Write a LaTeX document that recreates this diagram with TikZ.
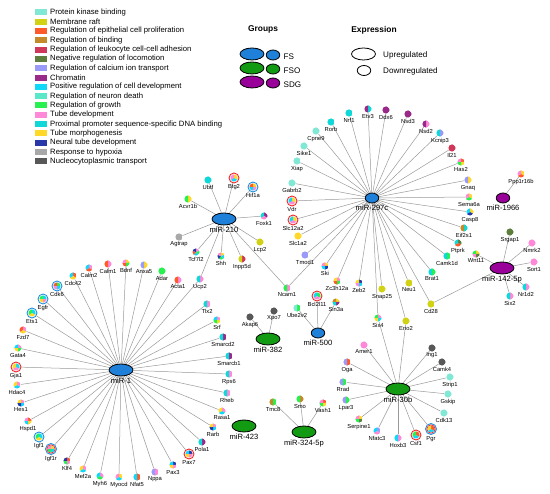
\documentclass[tikz,border=0pt]{standalone}
\usepackage{fontspec}
\setmainfont{Liberation Sans}
\usetikzlibrary{shapes.geometric}
\pgfdeclarelayer{bg}
\pgfsetlayers{bg,main}
\definecolor{pkb}{HTML}{80E8D4}
\definecolor{mraft}{HTML}{D2D214}
\definecolor{epi}{HTML}{FF5A2A}
\definecolor{bind}{HTML}{C48A2A}
\definecolor{leuk}{HTML}{D0385A}
\definecolor{negloc}{HTML}{5E7E3E}
\definecolor{calc}{HTML}{9A9AF8}
\definecolor{chrom}{HTML}{9A2A8A}
\definecolor{posdev}{HTML}{10D8F8}
\definecolor{neur}{HTML}{5AE8C8}
\definecolor{growth}{HTML}{28F050}
\definecolor{tube}{HTML}{FF88D8}
\definecolor{prox}{HTML}{10D8D8}
\definecolor{tmorph}{HTML}{FFD828}
\definecolor{ntube}{HTML}{2838A8}
\definecolor{hyp}{HTML}{A8A8A8}
\definecolor{nuc}{HTML}{585858}
\definecolor{fs}{HTML}{1E80D8}
\definecolor{fso}{HTML}{129A12}
\definecolor{sdg}{HTML}{990099}
\definecolor{ringred}{HTML}{F02828}
\definecolor{ringblue}{HTML}{1E90E0}
\newcommand\piefill[1]{%
  \foreach \pcol [count=\pn] in {#1} {\xdef\npie{\pn}}%
  \foreach \pcol [count=\pk] in {#1} {%
    \fill[\pcol] (path picture bounding box.center) -- ++({90-(\pk-1)*360/\npie}:3.6pt)
      arc[start angle={90-(\pk-1)*360/\npie}, end angle={90-\pk*360/\npie}, radius=3.6pt] -- cycle;}%
}
\tikzset{
  gene/.style={circle, inner sep=0pt, minimum size=7.2pt, path picture={\piefill{#1}}},
  rr/.style={minimum size=10pt, draw=ringred, line width=0.9pt, fill=white},
  br/.style={minimum size=10pt, draw=ringblue, line width=0.9pt, fill=white},
  brr/.style={minimum size=11pt, draw=ringblue, line width=0.9pt, fill=white},
  lab/.style={font=\fontsize{5.8}{6}\selectfont, inner sep=1pt, text=black},
  hlab/.style={font=\fontsize{7.6}{8}\selectfont, inner sep=1.5pt, text=black},
  hubB/.style={ellipse, draw=black, line width=0.8pt, minimum width=24pt, minimum height=12pt, inner sep=0pt},
  hubS/.style={ellipse, draw=black, line width=0.8pt, minimum width=13.5pt, minimum height=10pt, inner sep=0pt},
  edge/.style={draw=gray!80, line width=0.5pt},
  legsq/.style={rectangle, minimum width=12pt, minimum height=6pt, inner sep=0pt},
  legtxt/.style={font=\fontsize{7.7}{8}\selectfont, inner sep=0pt, anchor=west},
  ttl/.style={font=\fontsize{8.4}{9}\selectfont\bfseries, inner sep=0pt},
  gtxt/.style={font=\fontsize{8.1}{9}\selectfont, inner sep=0pt, anchor=west},
}
\newcommand\gn[5][]{\node[gene={#5},#1,label={[lab]below:#4}] (#2) at (#3) {};}
\begin{document}
\begin{tikzpicture}[x=1pt,y=-1pt]
\useasboundingbox (0,0) rectangle (550,494);
% ---------- legend ----------
\foreach \col/\txt [count=\i from 0] in {pkb/Protein kinase binding, mraft/Membrane raft,
  epi/Regulation of epithelial cell proliferation, bind/Regulation of binding,
  leuk/Regulation of leukocyte cell-cell adhesion, negloc/Negative regulation of locomotion,
  calc/Regulation of calcium ion transport, chrom/Chromatin,
  posdev/Positive regulation of cell development, neur/Regulation of neuron death,
  growth/Regulation of growth, tube/Tube development,
  prox/Proximal promoter sequence-specific DNA binding, tmorph/Tube morphogenesis,
  ntube/Neural tube development, hyp/Response to hypoxia, nuc/Nucleocytoplasmic transport}{
  \node[legsq, fill=\col] (sq\i) at (40.5,{12.3+9.32*\i}) {};
  \node[legtxt] (lt\i) at (50,{12.3+9.32*\i}) {\txt};
}
\node[ttl] (gtitle) at (263,29) {Groups};
\node[hubB, fill=fs] (gfsb) at (252,54) {};
\node[hubS, fill=fs] (gfss) at (273,55) {};
\node[gtxt] (gfst) at (283.5,57) {FS};
\node[hubB, fill=fso] (gfsob) at (252,68) {};
\node[hubS, fill=fso] (gfsos) at (273,69) {};
\node[gtxt] (gfsot) at (283.5,71) {FSO};
\node[hubB, fill=sdg] (gsdgb) at (252,82) {};
\node[hubS, fill=sdg] (gsdgs) at (273,83) {};
\node[gtxt] (gsdgt) at (283.5,85) {SDG};
\node[ttl] (etitle) at (374,30) {Expression};
\node[hubB, fill=white] (eup) at (363.5,54) {};
\node[gtxt] (eupt) at (383,55) {Upregulated};
\node[hubS, fill=white] (edown) at (364,70.5) {};
\node[gtxt] (edownt) at (383,71) {Downregulated};
% ---------- hubs ----------
\node[hubB, fill=fs, label={[hlab]below:miR-1}] (m1) at (121,370) {};
\node[hubB, fill=fs, label={[hlab]below:miR-210}] (m210) at (224,219) {};
\node[hubS, fill=fs, label={[hlab]below:miR-297c}] (m297) at (372,198) {};
\node[hubS, fill=fs, label={[hlab]below:miR-500}] (m500) at (318,333) {};
\node[hubB, fill=fso, label={[hlab]below:miR-382}] (m382) at (268,339) {};
\node[hubB, fill=fso, label={[hlab]below:miR-423}] (m423) at (244,426) {};
\node[hubB, fill=fso, label={[hlab]below:miR-324-5p}] (m324) at (304,432) {};
\node[hubB, fill=fso, label={[hlab]below:miR-30b}] (m30b) at (398,389) {};
\node[hubS, fill=sdg, label={[hlab]below:miR-1966}] (m1966) at (503,198) {};
\node[hubB, fill=sdg, label={[hlab]below:miR-142-5p}] (m142) at (502,268) {};
% ---------- miR-210 targets ----------
\gn{ubtf}{208,180}{Ubtf}{prox}
\gn[rr]{btg2}{234,178}{Btg2}{tmorph,posdev,tube}
\gn[br]{hif1a}{253,187}{Hif1a}{tmorph,tube,posdev,epi}
\gn{acvr1b}{188,199}{Acvr1b}{tmorph,growth}
\gn{foxk1}{264,216}{Foxk1}{chrom,tube,prox}
\gn{agtrap}{179,237}{Agtrap}{hyp}
\gn{lcp2}{260,242}{Lcp2}{mraft}
\gn{tcf7l2}{196,252}{Tcf7l2}{tube,growth,posdev,epi,ntube}
\gn{shh}{221,256}{Shh}{tmorph,posdev,growth,ntube,tube}
\gn{inpp5d}{242,259}{Inpp5d}{leuk,mraft}
\gn{ucp2}{200,279}{Ucp2}{tube,prox}
\gn{ncam1}{287,288}{Ncam1}{tube,growth}
% ---------- miR-1 targets ----------
\gn{acta1}{178,280}{Acta1}{tube,epi}
\gn{adar}{162,271}{Adar}{growth}
\gn{anxa5}{144,265}{Anxa5}{tmorph,calc}
\gn{bdnf}{126,263}{Bdnf}{tmorph,growth,epi,tube}
\gn{calm1}{108,264}{Calm1}{tube,epi}
\gn{calm2}{89,268}{Calm2}{tube,epi,posdev}
\gn{cdc42}{73,276}{Cdc42}{epi,tmorph,posdev}
\gn[br]{cdk6}{57,286}{Cdk6}{growth,posdev,tube,epi}
\gn[br]{egfr}{43,299}{Egfr}{posdev,tube,tmorph,growth}
\gn[br]{ets1}{32,313}{Ets1}{posdev,tmorph,growth}
\gn{fzd7}{23,330}{Fzd7}{tube,tmorph,epi}
\gn{gata4}{18,348}{Gata4}{tube,growth,tmorph,posdev}
\gn[rr]{gja1}{16,367}{Gja1}{posdev,tube,tmorph}
\gn{hdac4}{17,385}{Hdac4}{tube,posdev,tmorph}
\gn{hes1}{21,403}{Hes1}{tube,posdev,ntube,tmorph}
\gn{hspd1}{28,421}{Hspd1}{epi,tmorph,posdev,tube}
\gn[br]{igf1}{39,437}{Igf1}{posdev,tmorph,growth}
\gn[brr]{igf1r}{51,449}{Igf1r}{tmorph,posdev,growth,tube}
\gn{klf4}{67,461}{Klf4}{epi,tube,growth,ntube}
\gn{mef2a}{83,469}{Mef2a}{tube,posdev,tmorph}
\gn{myh6}{100,476}{Myh6}{tube,growth,posdev}
\gn{myocd}{119,477}{Myocd}{tmorph,posdev,tube}
\gn{nfat5}{137,477}{Nfat5}{epi,posdev}
\gn{nppa}{155,472}{Nppa}{tube,calc}
\gn{pax3}{173,465}{Pax3}{ntube,tube,tmorph,posdev}
\gn[rr]{pax7}{189,454}{Pax7}{ntube,tube,tmorph,posdev}
\gn{pola1}{202,442}{Pola1}{chrom,prox}
\gn{rarb}{213,427}{Rarb}{tube,posdev,ntube,tmorph}
\gn{rasa1}{222,411}{Rasa1}{tube,posdev,tmorph}
\gn{rheb}{227,393}{Rheb}{tube,prox}
\gn{rps6}{229,374}{Rps6}{tube,prox}
\gn{smarcb1}{229,356}{Smarcb1}{chrom,prox}
\gn{smarcd2}{223,337}{Smarcd2}{chrom,prox}
\gn{srf}{217,320}{Srf}{tube,tmorph,growth,posdev}
\gn{tlx2}{207,304}{Tlx2}{tube,prox}
% ---------- miR-382, miR-500, miR-324-5p ----------
\gn{akap6}{250,317}{Akap6}{nuc}
\gn{xpo7}{274,311}{Xpo7}{nuc}
\gn{ube2v2}{297,308}{Ube2v2}{growth,pkb}
\gn[rr]{bcl2l11}{317,296}{Bcl2l11}{growth,tube,posdev}
\gn{sin3a}{336,302}{Sin3a}{tmorph,chrom,prox,bind}
\gn{tmc8}{273,402}{Tmc8}{growth,bind}
\gn{smo}{300,399}{Smo}{bind,growth}
\gn{vash1}{323,403}{Vash1}{epi,tmorph,growth,tube}
% ---------- miR-297c targets ----------
\gn{rorb}{331,122}{Rorb}{prox}
\gn{nrf1}{349,113}{Nrf1}{prox}
\gn{etv3}{368,109}{Etv3}{prox,chrom}
\gn{ddx6}{386,110}{Ddx6}{chrom}
\gn{nsd3}{408,114}{Nsd3}{chrom}
\gn{nsd2}{426,124}{Nsd2}{tube,chrom}
\gn{kcnip3}{440,133}{Kcnip3}{calc,prox}
\gn{il21}{452,148}{Il21}{leuk}
\gn{has2}{461,162}{Has2}{epi,tmorph,growth,tube}
\gn{gnaq}{468,180}{Gnaq}{tmorph,calc}
\gn{sema6a}{469,197}{Sema6a}{tmorph,growth,tube}
\gn{casp8}{470,212}{Casp8}{tmorph,ntube,posdev}
\gn{eif2s1}{464,228}{Eif2s1}{prox,bind}
\gn{ptprk}{458,243}{Ptprk}{negloc,epi,prox}
\gn{camk1d}{447,256}{Camk1d}{growth,prox}
\gn{brat1}{432,272}{Brat1}{growth,prox}
\gn{cd28}{431,304}{Cd28}{mraft}
\gn{neu1}{409,283}{Neu1}{mraft}
\gn{eno2}{406,321}{Eno2}{mraft}
\gn{snap25}{382,289}{Snap25}{mraft}
\gn{six4}{378,318}{Six4}{tube,posdev,tmorph,growth}
\gn{zeb2}{359,283}{Zeb2}{ntube,posdev,tube,tmorph}
\gn{zc3h12a}{337,281}{Zc3h12a}{tube,growth,epi,tmorph}
\gn{ski}{325,266}{Ski}{tmorph,ntube,posdev,tube}
\gn{tmod1}{305,255}{Tmod1}{calc}
\gn{slc1a2}{298,236}{Slc1a2}{tmorph}
\gn[rr]{slc12a2}{293,220}{Slc12a2}{tmorph,tube,posdev}
\gn[rr]{vdr}{292,201}{Vdr}{tmorph,tube,posdev}
\gn{gabrb2}{292,183}{Gabrb2}{pkb}
\gn{xiap}{297,161}{Xiap}{pkb}
\gn{sike1}{304,146}{Sike1}{pkb}
\gn{cpne9}{316,131}{Cpne9}{pkb}
% ---------- miR-1966, miR-142-5p ----------
\gn{ppp1r16b}{521,174}{Ppp1r16b}{tmorph,epi,tube}
\gn{wnt11}{476,254}{Wnt11}{tmorph,negloc,tube,growth}
\gn{srgap1}{510,232}{Srgap1}{negloc}
\gn{nmrk2}{532,243}{Nmrk2}{tube}
\gn{sort1}{534,262}{Sort1}{tube}
\gn{nr1d2}{526,287}{Nr1d2}{tube,prox}
\gn{six2}{510,296}{Six2}{tube,prox}
% ---------- miR-30b targets ----------
\gn{amer1}{364,345}{Amer1}{tube}
\gn{oga}{347,362}{Oga}{epi,calc}
\gn{rrad}{343,382}{Rrad}{growth,calc}
\gn{lpar3}{346,400}{Lpar3}{growth,calc}
\gn{serpine1}{359,419}{Serpine1}{tmorph,negloc,growth,tube}
\gn{nfatc3}{377,431}{Nfatc3}{calc,tube,posdev}
\gn{hoxb3}{398,438}{Hoxb3}{tube,posdev}
\gn[rr]{csf1}{416,435}{Csf1}{epi,posdev,growth}
\gn[brr]{pgr}{431,429}{Pgr}{epi,posdev,tmorph}
\gn{cdk13}{444,413}{Cdk13}{pkb}
\gn{gskip}{448,394}{Gskip}{pkb}
\gn{strip1}{450,377}{Strip1}{pkb}
\gn{camk4}{442,362}{Camk4}{nuc}
\gn{ing1}{432,348}{Ing1}{nuc}
% inner red rings
\draw[ringred, line width=0.7pt] (igf1r.center) circle[radius=4.2pt];
\draw[ringred, line width=0.7pt] (pgr.center) circle[radius=4.2pt];
% ---------- edges ----------
\begin{pgfonlayer}{bg}
\foreach \t in {ubtf,btg2,hif1a,acvr1b,foxk1,agtrap,lcp2,tcf7l2,shh,inpp5d,ucp2,ncam1}
  \draw[edge] (m210) -- (\t);
\foreach \t in {acta1,adar,anxa5,bdnf,calm1,calm2,cdc42,cdk6,egfr,ets1,fzd7,gata4,gja1,hdac4,hes1,hspd1,igf1,igf1r,klf4,mef2a,myh6,myocd,nfat5,nppa,pax3,pax7,pola1,rarb,rasa1,rheb,rps6,smarcb1,smarcd2,srf,tlx2,ucp2}
  \draw[edge] (m1) -- (\t);
\foreach \t in {akap6,xpo7} \draw[edge] (m382) -- (\t);
\foreach \t in {ube2v2,bcl2l11,sin3a} \draw[edge] (m500) -- (\t);
\foreach \t in {tmc8,smo,vash1} \draw[edge] (m324) -- (\t);
\foreach \t in {rorb,nrf1,etv3,ddx6,nsd3,nsd2,kcnip3,il21,has2,gnaq,sema6a,casp8,eif2s1,ptprk,camk1d,brat1,cd28,neu1,eno2,snap25,six4,zeb2,zc3h12a,ski,tmod1,slc1a2,slc12a2,vdr,gabrb2,xiap,sike1,cpne9,ncam1}
  \draw[edge] (m297) -- (\t);
\draw[edge] (m1966) -- (ppp1r16b);
\foreach \t in {wnt11,srgap1,nmrk2,sort1,nr1d2,six2,cd28} \draw[edge] (m142) -- (\t);
\foreach \t in {amer1,oga,rrad,lpar3,serpine1,nfatc3,hoxb3,csf1,pgr,cdk13,gskip,strip1,camk4,ing1,six4,eno2}
  \draw[edge] (m30b) -- (\t);
\end{pgfonlayer}
\end{tikzpicture}
\end{document}
